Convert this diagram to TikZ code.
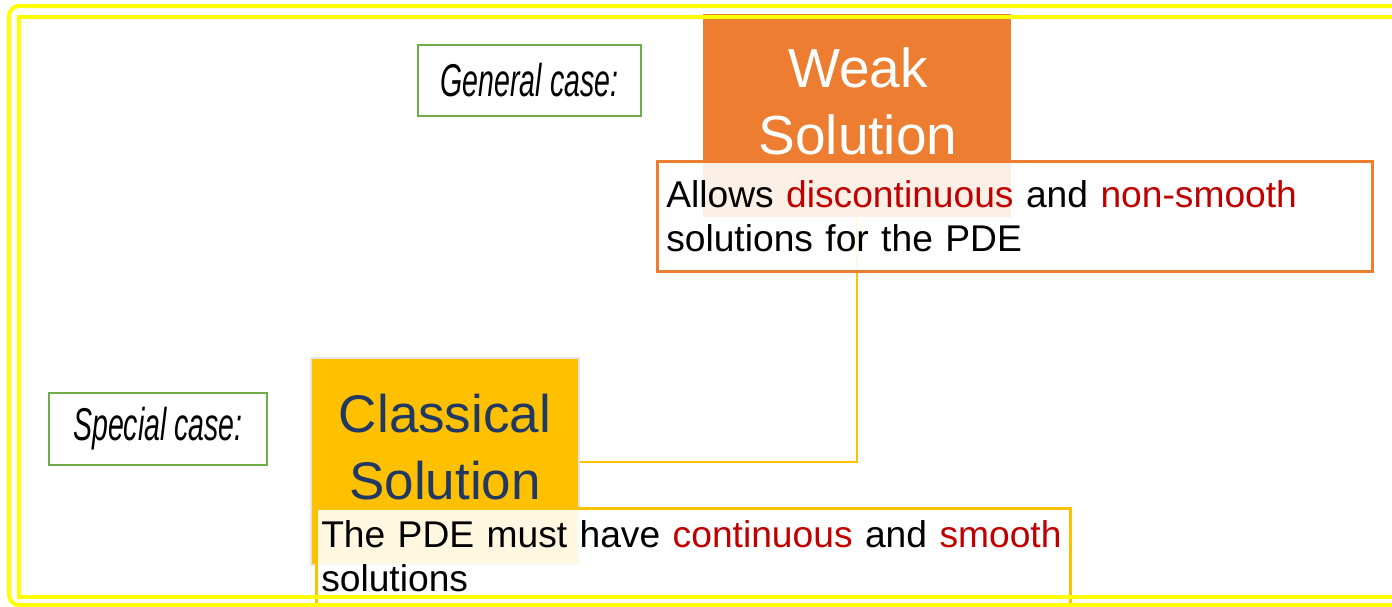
\documentclass[tikz,border=0pt]{standalone}
\usepackage{fontspec}
\setmainfont{Liberation Sans}
\usepackage{graphicx}
\usetikzlibrary{positioning}
\definecolor{WeakColor}{HTML}{ED7D31}
\definecolor{ClassicColor}{HTML}{FFC000}
\definecolor{TitleColor}{HTML}{203864}
\definecolor{CaseColor}{HTML}{70AD47}
\definecolor{TermColor}{HTML}{C00000}
\definecolor{FrameColor}{HTML}{FFFF00}
\newcommand{\term}[1]{\textcolor{TermColor}{#1}}
\newcommand{\casetext}[1]{\scalebox{0.62}[1]{\itshape #1}}
\tikzset{
  casebox/.style={draw=CaseColor, line width=1.25pt, font=\fontsize{23}{26}\selectfont},
  solbox/.style={inner sep=0pt},
  soltitle/.style={align=center, inner sep=0pt, font=\fontsize{27.5}{33.5}\selectfont},
  notebox/.style={anchor=north west, fill=white, fill opacity=0.88, text opacity=1,
    line width=1.25pt, align=left, inner xsep=4.5pt, font=\fontsize{18.6}{22}\selectfont},
  frameline/.style={draw=FrameColor, line width=2pt}
}

\begin{document}
\begin{tikzpicture}[x=0.5pt, y=-0.5pt]
  \useasboundingbox (0,0) rectangle (1392,606);
  \clip (0,0) rectangle (1392,606);
  \node[casebox, minimum width=111.5pt, minimum height=35.5pt] (general) at (529.5,80.5) {\casetext{General case:}};
  \node[casebox, minimum width=109pt, minimum height=36pt] (special) at (158,429) {\casetext{Special case:}};
  \node[solbox, fill=WeakColor, minimum width=154pt, minimum height=101.5pt] (weak) at (857,115.5) {};
  \node[soltitle, text=white] (weaktitle) at (858,101.5) {Weak\\Solution};
  \node[solbox, fill=ClassicColor, draw=gray!20, line width=1pt, minimum width=134pt, minimum height=103.5pt] (classical) at (445,461.5) {};
  \node[soltitle, text=TitleColor, font=\fontsize{26.5}{33.5}\selectfont] (classtitle) at (445,447.5) {Classical\\Solution};
  \draw[ClassicColor, line width=1pt] (classical.east) -| (weak.south);
  \node[notebox, draw=WeakColor, text width=348.5pt, minimum height=55pt] (weaknote) at (656,160)
    {Allows \term{discontinuous} and \term{non-smooth} solutions for the PDE};
  \node[notebox, draw=ClassicColor, text width=372pt, inner xsep=2.5pt, minimum height=48pt] (classnote) at (315,507)
    {The PDE must have \term{continuous} and \term{smooth} solutions};
  \draw[frameline, rounded corners=5pt] (1400,6) -- (9,6) -- (9,605) -- (1400,605);
  \draw[frameline] (1400,17) -- (19,17) -- (19,597) -- (1400,597);
\end{tikzpicture}
\end{document}
